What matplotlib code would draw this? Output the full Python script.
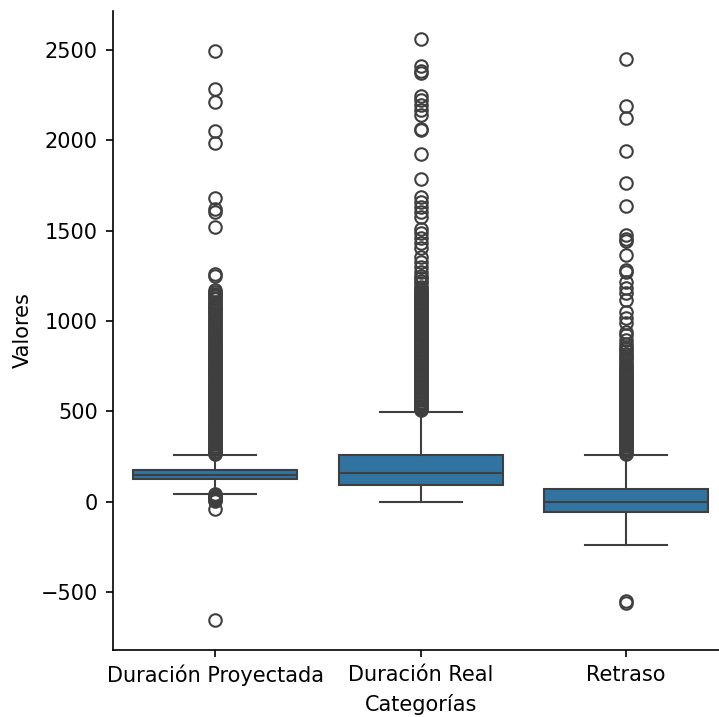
import matplotlib
matplotlib.use("Agg")
import matplotlib.pyplot as plt

# valores
categorias = ["Duración Proyectada", "Duración Real", "Retraso"]
q1 = [124, 92, -59]
medianas = [147, 160, 0]
q3 = [175, 258, 69]
bigote_inf = [43, 0, -240]
bigote_sup = [258, 498, 258]

atipicos_proyectada = [
    2496, 2282, 2214, 2053, 1983, 1679, 1622, 1606, 1522, 1262, 1250,
    1170, 1160, 1152, 1144, 1136, 1128, 1120, 1105, 1097, 1088, 1080, 1071,
    1063, 1055, 1046, 1038, 1030, 1016, 1008, 1000, 988, 980, 972, 960,
    952, 944, 935, 927, 918, 910, 901, 893, 884, 876, 868, 860, 852, 845,
    838, 830, 823, 816, 809, 802, 794, 787, 780, 772, 766, 758, 751, 744,
    737, 730, 722, 715, 708, 700, 694, 687, 680, 672, 665, 659, 651, 644,
    637, 630, 623, 615, 608, 602, 594, 587, 580, 573, 566, 558, 551, 545,
    537, 530, 522, 516, 509, 501, 494, 488, 480, 473, 466, 459, 452, 444,
    438, 431, 423, 416, 410, 402, 395, 388, 380, 374, 367, 360, 352, 345,
    339, 331, 324, 318, 310, 303, 296, 290, 281, 275, 268, 262,
    40, 35, 30, 25, 20, 15, 10, 5, -40, -655,
]

atipicos_real = [
    2559, 2411, 2385, 2370, 2245, 2223, 2195, 2168, 2140, 2061, 2055, 1924,
    1786, 1688, 1660, 1632, 1605, 1577, 1508, 1486, 1459, 1431, 1403, 1356,
    1328, 1300, 1273, 1250, 1236, 1220, 1209, 1190, 1180,
    1170, 1163, 1156, 1149, 1141, 1134, 1127, 1120, 1112, 1105, 1098, 1091,
    1083, 1076, 1069, 1062, 1054, 1047, 1040, 1033, 1025, 1018, 1011, 1004,
    996, 989, 982, 975, 967, 960, 953, 946, 938, 931, 924, 917, 909, 902,
    895, 888, 880, 873, 866, 859, 851, 844, 837, 830, 822, 815, 808, 801,
    793, 786, 779, 772, 764, 757, 750, 743, 735, 728, 721, 714, 706, 699,
    692, 685, 677, 670, 663, 656, 648, 641, 634, 627, 619, 612, 605, 598,
    590, 583, 576, 569, 561, 554, 547, 540, 532, 525, 518, 511, 505,
]

atipicos_retraso = [
    2448, 2190, 2122, 1943, 1762, 1638, 1476, 1452, 1440, 1365, 1282, 1270,
    1216, 1182, 1154, 1117, 1050, 1016, 990, 940, 920, 895, 870, 856,
    845, 832, 820, 808, 795, 782, 770, 757, 745, 733,
    726, 719, 712, 705, 698, 691, 684, 677, 670, 663, 656, 649, 642, 635,
    628, 621, 614, 607, 600, 593, 586, 579, 572, 565, 558, 551, 544, 537,
    530, 523, 516, 509, 502, 495, 488, 481, 474, 467, 460, 453, 446, 439,
    432, 425, 418, 411, 404, 397, 390, 383, 376, 369, 362, 355, 348, 341,
    334, 327, 320, 313, 306, 299, 292, 285, 278, 271, 265,
    -550, -562,
]

atipicos = [atipicos_proyectada, atipicos_real, atipicos_retraso]

stats = []
for i in range(len(categorias)):
    stats.append({
        "label": categorias[i],
        "med": medianas[i],
        "q1": q1[i],
        "q3": q3[i],
        "whislo": bigote_inf[i],
        "whishi": bigote_sup[i],
        "fliers": atipicos[i],
    })

gris = "#3f3f3f"
fig = plt.figure(figsize=(719 / 150, 717 / 150), dpi=150)
ax = fig.add_axes([0.1565, 0.0934, 0.8574, 0.8916])

ax.bxp(stats, positions=[0, 1, 2], widths=0.8, capwidths=0.4,
       patch_artist=True,
       boxprops=dict(facecolor="#3274a1", edgecolor=gris, linewidth=1),
       medianprops=dict(color=gris, linewidth=1),
       whiskerprops=dict(color=gris, linewidth=1),
       capprops=dict(color=gris, linewidth=1),
       flierprops=dict(marker="o", markerfacecolor="none",
                       markeredgecolor=gris, markersize=6,
                       markeredgewidth=1))

ax.set_xlim(-0.5, 2.5)
ax.set_ylim(-821, 2717)
ax.set_xticks([0, 1, 2], categorias)
ax.set_yticks([-500, 0, 500, 1000, 1500, 2000, 2500])
ax.set_xlabel("Categorías")
ax.set_ylabel("Valores")
ax.spines["top"].set_visible(False)
ax.spines["right"].set_visible(False)

fig.savefig("out.png", dpi=150)
